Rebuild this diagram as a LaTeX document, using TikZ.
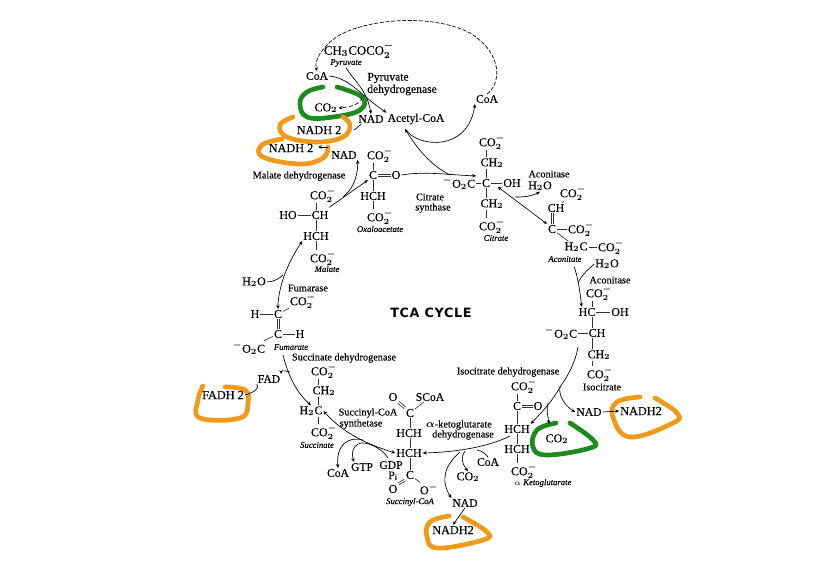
\documentclass[tikz,border=0pt]{standalone}
\usepackage{fontspec}
\setmainfont{Liberation Serif}
\newfontfamily\chemf[FakeBold=0.2]{Liberation Serif}
\newfontfamily\itf[FakeBold=0.15]{Liberation Serif Italic}
\newfontfamily\tcaf[LetterSpace=5]{DejaVu Sans}
\usetikzlibrary{arrows.meta}
\newcommand\COO{CO$_2^-$}
\newcommand\COt{CO$_2$}
\newcommand\vb[3]{\draw[bond] (#2.south -| #1) -- (#3.north -| #1);}
\newcommand\db[4]{\draw[bond] ([xshift=#3pt,yshift=#4pt]#1) -- ([xshift=#3pt,yshift=#4pt]#2); \draw[bond] ([xshift=-#3pt,yshift=-#4pt]#1) -- ([xshift=-#3pt,yshift=-#4pt]#2);}
\definecolor{tcagreen}{HTML}{1C8A1E}
\definecolor{tcaorange}{HTML}{F09A1A}
\tikzset{
  chem/.style={inner sep=0.6pt,font=\chemf\boldmath\fontsize{9}{10}\selectfont},
  pyrs/.style={inner sep=0.6pt,font=\chemf\boldmath\fontsize{9.6}{10}\selectfont},
  enz/.style={inner sep=0.6pt,font=\chemf\boldmath\fontsize{8.7}{9}\selectfont},
  enzs/.style={inner sep=0.6pt,font=\chemf\boldmath\fontsize{7.7}{8}\selectfont},
  capn/.style={inner sep=0.6pt,font=\itf\fontsize{6.5}{7}\selectfont},
  nadh/.style={inner sep=0.6pt,font=\chemf\fontsize{9.2}{10}\selectfont},
  bond/.style={line width=0.5pt,black!80},
  arr/.style={line width=0.5pt,black,-{Stealth[length=3pt,width=2.6pt]}},
  barr/.style={line width=0.5pt,black,{Stealth[length=3pt,width=2.6pt]}-{Stealth[length=3pt,width=2.6pt]}},
  ln/.style={line width=0.5pt,black},
  gloop/.style={line width=3.5pt,tcagreen,line cap=round,line join=round},
  oloop/.style={line width=3.5pt,tcaorange,line cap=round,line join=round},
}
\begin{document}
\begin{tikzpicture}[x=0.75pt,y=-0.75pt]
\useasboundingbox (0,0) rectangle (818,561);
% coloured loops
\draw[gloop] plot[smooth,tension=.7] coordinates {(323,87) (307,92) (300,103) (307,117) (333,117) (360,110) (362,97) (337,87)};
\draw[oloop] plot[smooth,tension=.7] coordinates {(293,117) (280,125) (287,137) (317,142) (343,137) (350,125) (343,117)};
\draw[oloop] plot[smooth,tension=.7] coordinates {(282,139) (262,145) (263,157) (300,164) (323,158) (328,147)};
\draw[gloop] plot[smooth,tension=.7] coordinates {(556,423) (537,430) (533,447) (547,455) (590,448) (593,440) (570,423)};
\draw[oloop] plot[smooth,tension=.7] coordinates {(640,397) (617,402) (613,417) (630,437) (673,423) (677,413) (655,398)};
\draw[oloop] plot[smooth,tension=.7] coordinates {(449,516) (430,522) (427,537) (438,548) (483,540) (487,532) (463,517)};
\draw[oloop] plot[smooth,tension=.7] coordinates {(203,386) (198,400) (200,418) (240,418) (248,403) (245,390) (225,387)};
% column references
\coordinate (xcit) at (486,0);
\coordinate (xaco) at (552,0);
\coordinate (xiso) at (592,0);
\coordinate (xket) at (517,0);
\coordinate (xsuc) at (410,0);
\coordinate (xsn) at (318,0);
\coordinate (xmal) at (316,0);
\coordinate (xoxa) at (373,0);
% pyruvate region
\node[pyrs] (pyr) at (359,50) {CH$_3$COCO$_2^-$};
\node[capn] (pyrl) at (346,63) {Pyruvate};
\node[enz] (coaA) at (317,76) {CoA};
\node[enz] (pdh1) at (388,78) {Pyruvate};
\node[enz] (pdh2) at (402,90) {dehydrogenase};
\node[chem] (co2A) at (326,108) {\COt};
\node[enz] (nadA) at (371,119) {NAD};
\node[enz] (acet) at (416,119) {Acetyl-CoA};
\node[nadh] (nadh1) at (319,130) {NADH 2};
\node[nadh] (nadh2) at (291,148) {NADH 2};
\node[enz] (nadB) at (344,155) {NAD};
\node[enz] (coaB) at (487,99) {CoA};
% oxaloacetate
\node[chem] (oxa1) at (380,155) {\COO};
\node[chem] (oxaC) at (373,175) {C};
\node[chem] (oxaO) at (396,175) {O};
\node[chem] (oxaH) at (373,196) {HCH};
\node[chem] (oxa2) at (380,217) {\COO};
\node[capn] (oxal) at (380,229) {Oxaloacetate};
\node[enzs] (mdh) at (299,176) {Malate dehydrogenase};
\node[enzs] (cs1) at (430,197) {Citrate};
\node[enzs] (cs2) at (433,208) {synthase};
% citrate
\node[chem] (cit1) at (492,142) {\COO};
\node[chem] (cit2) at (492,163) {CH$_2$};
\node[chem] (citL) at (459,183) {$^-$O$_2$C};
\node[chem] (citC) at (486,183) {C};
\node[chem] (citO) at (512,183) {OH};
\node[chem] (cit3) at (492,204) {CH$_2$};
\node[chem] (cit4) at (492,226) {\COO};
\node[capn] (citl) at (496,238) {Citrate};
% aconitate
\node[enzs] (acn1) at (549,174) {Aconitase};
\node[chem] (wat1) at (540,186) {H$_2$O};
\node[chem] (aco1) at (573,193) {\COO};
\node[chem] (aco2) at (556,208) {CH};
\node[chem] (aco3) at (552,229) {C};
\node[chem] (aco4) at (581,229) {\COO};
\node[chem] (aco5) at (576,247) {H$_2$C};
\node[chem] (aco6) at (611,247) {\COO};
\node[capn] (acol) at (565,259) {Aconitate};
\node[chem] (wat2) at (607,264) {H$_2$O};
\node[enzs] (acn2) at (610,280) {Aconitase};
% isocitrate
\node[chem] (iso1) at (599,293) {\COO};
\node[chem] (iso2) at (587,312) {HC};
\node[chem] (iso3) at (620,312) {OH};
\node[chem] (iso4) at (561,333) {$^-$O$_2$C};
\node[chem] (iso5) at (597,333) {CH};
\node[chem] (iso6) at (599,355) {CH$_2$};
\node[chem] (iso7) at (600,374) {\COO};
\node[enzs] (isol) at (602,387) {Isocitrate};
\node[enzs] (idh) at (508,372) {Isocitrate dehydrogenase};
% ketoglutarate
\node[chem] (ket1) at (524,386) {\COO};
\node[chem] (ket2) at (517,406) {C};
\node[chem] (ket2o) at (538,406) {O};
\node[chem] (ket3) at (517,429) {HCH};
\node[chem] (ket4) at (517,449) {HCH};
\node[chem] (ket5) at (524,471) {\COO};
\node[capn] (ketl) at (543,483) {$\alpha$ Ketoglutarate};
\node[chem] (co2B) at (557,439) {\COt};
\node[enz] (nadC) at (589,412) {NAD};
\node[nadh] (nadh3) at (641,411) {NADH2};
% succinyl-CoA
\node[enzs] (kgd1) at (459,425) {$\alpha$-ketoglutarate};
\node[enzs] (kgd2) at (463,435) {dehydrogenase};
\node[enz] (coaC) at (488,462) {CoA};
\node[chem] (co2C) at (468,477) {\COt};
\node[enz] (nadD) at (465,503) {NAD};
\node[nadh] (nadh4) at (453,530) {NADH2};
\node[chem] (sc1) at (393,397) {O};
\node[enz] (sc2) at (430,397) {SCoA};
\node[chem] (sc3) at (410,413) {C};
\node[chem] (sc4) at (409,433) {HCH};
\node[chem] (sc5) at (409,453) {HCH};
\node[chem] (sc6) at (410,475) {C};
\node[chem] (sc7) at (393,489) {O};
\node[chem] (sc8) at (429,489) {O$^-$};
\node[capn] (scl) at (410,502) {Succinyl-CoA};
\node[enzs] (scs1) at (368,413) {Succinyl-CoA};
\node[enzs] (scs2) at (361,424) {synthetase};
\node[enz] (gdp) at (391,465) {GDP};
\node[enz] (pi) at (393,476) {P$_{\mathrm i}$};
\node[enz] (gtp) at (362,467) {GTP};
\node[enz] (coaD) at (338,473) {CoA};
% succinate
\node[enzs] (sdh) at (344,358) {Succinate dehydrogenase};
\node[chem] (suc1) at (324,371) {\COO};
\node[chem] (suc2) at (324,391) {CH$_2$};
\node[chem] (suc3) at (311,411) {H$_2$C};
\node[chem] (suc4) at (324,432) {\COO};
\node[capn] (sucl) at (317,445) {Succinate};
\node[enz] (fad) at (269,379) {FAD};
\node[nadh] (fadh) at (223,395) {FADH 2};
% fumarate
\node[chem] (fum1) at (303,301) {\COO};
\node[enzs] (fuma) at (308,288) {Fumarase};
\node[chem] (fumH) at (255,314) {H};
\node[chem] (fum2) at (278,314) {C};
\node[chem] (fum3) at (278,334) {C};
\node[chem] (fumH2) at (300,334) {H};
\node[chem] (fum4) at (249,348) {$^-$O$_2$C};
\node[capn] (fuml) at (291,347) {Fumarate};
\node[chem] (wat3) at (254,282) {H$_2$O};
% malate
\node[chem] (mal1) at (323,195) {\COO};
\node[chem] (mal2) at (288,215) {HO};
\node[chem] (mal3) at (320,215) {CH};
\node[chem] (mal4) at (316,236) {HCH};
\node[chem] (mal5) at (323,258) {\COO};
\node[capn] (mall) at (327,269) {Malate};
% title
\node[inner sep=0pt,font=\tcaf\bfseries\fontsize{9.6}{11}\selectfont] (tca) at (431,313) {TCA CYCLE};
% bonds
\vb{xcit}{cit1}{cit2} \vb{xcit}{cit2}{citC} \vb{xcit}{citC}{cit3} \vb{xcit}{cit3}{cit4}
\draw[bond] (citL) -- (citC); \draw[bond] (citC) -- (citO);
\vb{xoxa}{oxa1}{oxaC} \vb{xoxa}{oxaC}{oxaH} \vb{xoxa}{oxaH}{oxa2}
\db{oxaC.east}{oxaO.west}{0}{.8}
\draw[bond] (aco1) -- (aco2);
\db{aco2.south -| xaco}{aco3.north}{.8}{0}
\draw[bond] (aco3) -- (aco4); \draw[bond] (aco3) -- (aco5); \draw[bond] (aco5) -- (aco6);
\vb{xiso}{iso1}{iso2} \vb{xiso}{iso2}{iso5} \vb{xiso}{iso5}{iso6} \vb{xiso}{iso6}{iso7}
\draw[bond] (iso2) -- (iso3); \draw[bond] (iso4) -- (iso5);
\vb{xket}{ket1}{ket2} \vb{xket}{ket2}{ket3} \vb{xket}{ket3}{ket4} \vb{xket}{ket4}{ket5}
\db{ket2.east}{ket2o.west}{0}{.8}
\db{sc1.south east}{sc3.north west}{.6}{.6}
\draw[bond] (sc2) -- (sc3);
\vb{xsuc}{sc3}{sc4} \vb{xsuc}{sc4}{sc5} \vb{xsuc}{sc5}{sc6}
\db{sc6.south west}{sc7.north east}{.5}{-.6}
\draw[bond] (sc6) -- (sc8);
\vb{xsn}{suc1}{suc2} \vb{xsn}{suc2}{suc3} \vb{xsn}{suc3}{suc4}
\vb{xmal}{mal1}{mal3} \vb{xmal}{mal3}{mal4} \vb{xmal}{mal4}{mal5}
\draw[bond] (mal2) -- (mal3);
\draw[bond] (fumH) -- (fum2); \draw[bond] (fum1) -- (fum2);
\db{fum2.south}{fum3.north}{.8}{0}
\draw[bond] (fum3) -- (fumH2); \draw[bond] (fum3) -- (fum4);
% junctions and free ends
\coordinate (jCO2) at (362,97);
\coordinate (jN2) at (328,147);
\coordinate (jN3) at (318,147);
\coordinate (jAcR) at (450,175);
\coordinate (jAc) at (405,129);
\coordinate (jHw) at (515,197);
\coordinate (jH2) at (578,283);
\coordinate (jIsoA) at (578,347);
\coordinate (jIsoB) at (560,387);
\coordinate (jIsoC) at (548,403);
\coordinate (jCO2B) at (549,424);
\coordinate (jKgdS) at (510,436);
\coordinate (jKgdA) at (465,451);
\coordinate (jKgdC) at (477,450);
\coordinate (jKgdN) at (460,452);
\coordinate (jSucA) at (363,440);
\coordinate (jSucB) at (388,458);
\coordinate (jFadA) at (290,372);
\coordinate (jMalW) at (283,275);
\coordinate (jMdh) at (343,197);
% connectors
\draw[arr,dash pattern=on 3pt off 1.2pt] (coaB.north) .. controls (500,85) and (505,55) .. (470,33) .. controls (430,12) and (360,20) .. (335,38) .. controls (322,48) and (314,60) .. (coaA.north);
\draw[arr] (pyrl.south) .. controls (355,82) and (367,90) .. (nadA.north);
\draw[arr] (coaA.east) .. controls (350,78) and (360,95) .. (acet.north west);
\draw[arr,densely dashed] (jCO2) .. controls (362,103) and (352,107) .. (co2A.east);
\draw[ln] ([xshift=3pt]nadA.south west) -- ([xshift=9pt]nadh1.east);
\draw[arr] (jN2) -- (jN3);
\draw[arr] (jMdh) .. controls (352,190) and (358,178) .. (nadB.south east);
\draw[arr] ([yshift=2pt]mal3.north east) -- (oxaC.south west);
\draw[arr] (oxaO.east) .. controls (425,171) and (450,175) .. (citL.north east);
\draw[arr] (jAcR) .. controls (430,165) and (417,148) .. (jAc);
\draw[arr] (jAc) .. controls (418,148) and (468,152) .. (coaB.south west);
\draw[barr] ([xshift=5pt,yshift=1pt]citC.south east) -- (aco3.north west);
\draw[arr] (jHw) .. controls (522,197) and (530,197) .. (wat1.south);
\draw[arr] ([xshift=7pt,yshift=-3pt]acol.south) .. controls (578,278) and (580,292) .. ([xshift=-4pt]iso2.north);
\draw[ln] (wat2.west) .. controls (590,268) and (582,274) .. (jH2);
\draw[arr] (jIsoA) .. controls (575,365) and (565,380) .. (560,387) .. controls (552,402) and (540,414) .. (ket3.north east);
\draw[arr] (jIsoB) .. controls (558,398) and (568,408) .. (nadC.west);
\draw[arr] (jIsoC) .. controls (546,410) and (548,416) .. (jCO2B);
\draw[arr] (nadC.east) -- (nadh3.west);
\draw[arr] (jKgdS) .. controls (490,446) and (460,452) .. (sc5.east);
\draw[arr] (jKgdA) .. controls (461,457) and (461,462) .. (co2C.north);
\draw[ln] (jKgdC) .. controls (482,451) and (486,454) .. (coaC.north);
\draw[arr] (jKgdN) .. controls (445,465) and (440,480) .. (nadD.north west);
\draw[arr] (nadD.south) -- (nadh4.north);
\draw[barr] (sc5.west) .. controls (370,445) and (345,435) .. (suc3.east);
\draw[arr] (jSucB) .. controls (382,448) and (365,440) .. (358,444) .. controls (353,447) and (351,453) .. ([xshift=-6pt]gtp.north);
\draw[arr] (jSucA) .. controls (348,436) and (336,445) .. (coaD.north);
\draw[arr] ([xshift=-6pt,yshift=-3pt]fuml.south) .. controls (288,375) and (296,392) .. (suc3.north);
\draw[arr] (jFadA) .. controls (286,371) and (281,370) .. (fad.north east);
\draw[ln] (fad.south west) .. controls (260,388) and (255,392) .. (fadh.east);
\draw[barr] (fum2.north) .. controls (278,290) and (286,265) .. (mal4.south west);
\draw[ln] (wat3.east) .. controls (274,282) and (280,278) .. (jMalW);
\end{tikzpicture}
\end{document}
